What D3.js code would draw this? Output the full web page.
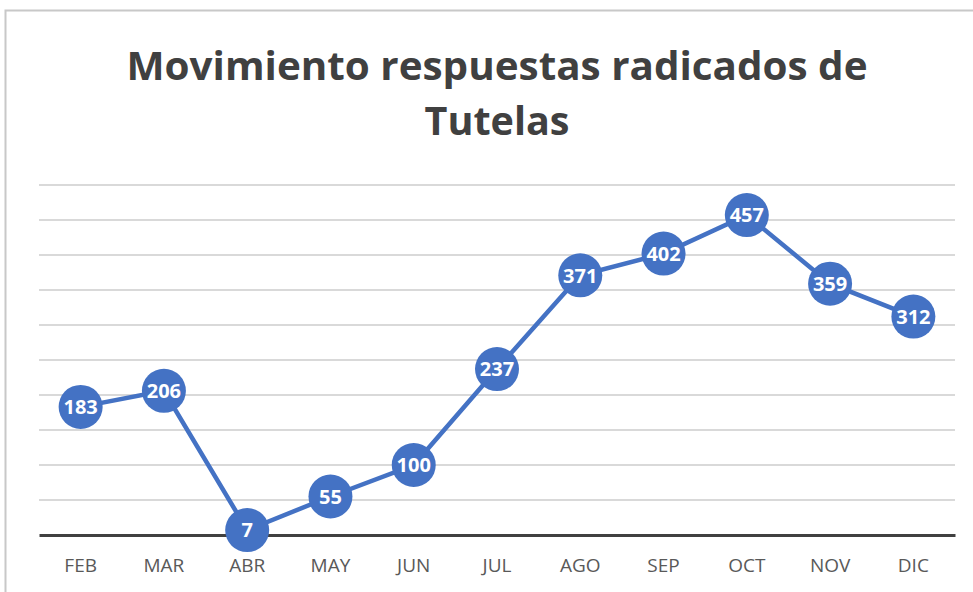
<!DOCTYPE html>
<html><head><meta charset="utf-8">
<script src="https://cdn.jsdelivr.net/npm/d3@7"></script>
<style>body{margin:0;background:#fff;} svg{display:block;}</style>
</head><body>
<script>
const categories = ["FEB","MAR","ABR","MAY","JUN","JUL","AGO","SEP","OCT","NOV","DIC"];
const values = [183,206,7,55,100,237,371,402,457,359,312];
const yTicks = [0,50,100,150,200,250,300,350,400,450,500];
const titleLines = ["Movimiento respuestas radicados de","Tutelas"];

const W=973,H=592;
const svg=d3.select("body").append("svg").attr("width",W).attr("height",H);
svg.append("rect").attr("x",5.5).attr("y",10.5).attr("width",W).attr("height",H).attr("fill","#fff").attr("stroke","#c8c8c8").attr("stroke-width",2);

const x=d3.scaleBand().domain(categories).range([39,955]);
const y=d3.scaleLinear().domain([0,500]).range([535,185]);

svg.append("g").selectAll("line").data(yTicks.slice(1)).join("line")
 .attr("x1",39).attr("x2",955).attr("y1",d=>y(d)).attr("y2",d=>y(d))
 .attr("stroke","#d9d9d9").attr("stroke-width",2);

const xAxis=svg.append("g").attr("transform",`translate(0,${y(0)})`).call(d3.axisBottom(x).tickSize(0).tickPadding(24));
xAxis.select(".domain").attr("stroke","#404040").attr("stroke-width",3);
xAxis.selectAll("text").attr("font-family","Open Sans, sans-serif").attr("font-size",19).attr("fill","#595959");

const cx=d=>x(d)+x.bandwidth()/2;
svg.append("path").datum(values.map((v,i)=>[cx(categories[i]),y(v)]))
 .attr("d",d3.line()).attr("fill","none").attr("stroke","#4472C4").attr("stroke-width",4.5);

const g=svg.append("g").selectAll("g").data(values).join("g")
 .attr("transform",(d,i)=>`translate(${cx(categories[i])},${y(d)})`);
g.append("circle").attr("r",22).attr("fill","#4472C4");
g.append("text").text(d=>d).attr("text-anchor","middle").attr("dy","0.36em")
 .attr("fill","#fff").attr("font-family","Open Sans, sans-serif").attr("font-weight","bold").attr("font-size",20);

const t=svg.append("text").attr("text-anchor","middle").attr("font-family","Open Sans, sans-serif")
 .attr("font-weight","bold").attr("font-size",40).attr("fill","#404040");
t.append("tspan").attr("x",497).attr("y",80).text(titleLines[0]).attr("textLength",741).attr("lengthAdjust","spacingAndGlyphs");
t.append("tspan").attr("x",497).attr("y",135).text(titleLines[1]).attr("textLength",145).attr("lengthAdjust","spacingAndGlyphs");
</script>
</body></html>
